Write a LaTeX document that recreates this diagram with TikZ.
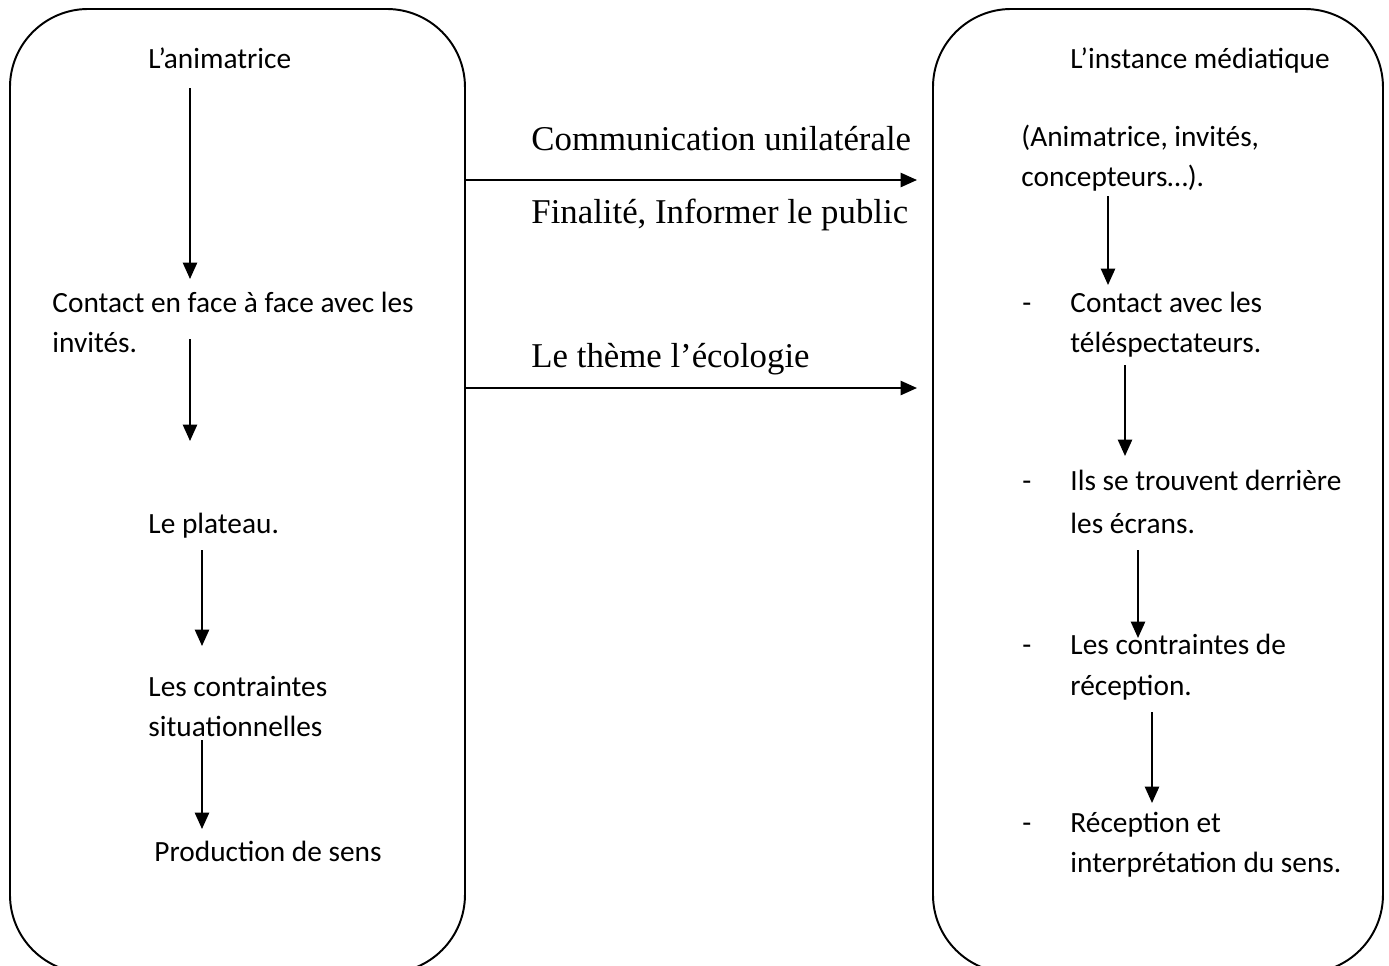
\documentclass[tikz,border=0pt]{standalone}
\usepackage{fontspec}
\setmainfont{Carlito}
\newfontfamily\tnr{Liberation Serif}
\usetikzlibrary{arrows.meta}
\tikzset{
  boxframe/.style={draw=black, line width=0.9pt, rounded corners=36pt},
  txt/.style={inner sep=0pt, anchor=base west, font=\fontsize{13.5}{16}\selectfont},
  serif/.style={inner sep=0pt, anchor=base west, font=\tnr\fontsize{16}{19}\selectfont},
  arr/.style={line width=0.9pt, -{Triangle[length=7.5pt,width=6.5pt]}},
}
\begin{document}
\begin{tikzpicture}[x=0.46pt,y=-0.46pt]
\useasboundingbox (0,0) rectangle (1389,965);
\clip (0,0) rectangle (1389,965);
% boxes
\node[boxframe, minimum width=455*0.46pt, minimum height=964*0.46pt, anchor=north west, inner sep=0pt] (lbox) at (9,8) {};
\node[boxframe, minimum width=450*0.46pt, minimum height=964*0.46pt, anchor=north west, inner sep=0pt] (rbox) at (932,8) {};
% left column
\node[txt] (l1) at (148,68) {L’animatrice};
\node[txt] (l2) at (52,312) {Contact en face à face avec les};
\node[txt] (l2b) at (52,352) {invités.};
\node[txt] (l3) at (148,533) {Le plateau.};
\node[txt] (l4) at (148,696) {Les contraintes};
\node[txt] (l4b) at (148,736) {situationnelles};
\node[txt] (l5) at (154,861) {Production de sens};
\coordinate (la1) at (190,88);  \coordinate (la1e) at (190,279);
\coordinate (la2) at (190,339); \coordinate (la2e) at (190,441);
\coordinate (la3) at (202,550); \coordinate (la3e) at (202,646);
\coordinate (la4) at (202,740); \coordinate (la4e) at (202,829);
\draw[arr] (la1) -- (la1e);
\draw[arr] (la2) -- (la2e);
\draw[arr] (la3) -- (la3e);
\draw[arr] (la4) -- (la4e);
% middle
\node[serif] (m1) at (531,150) {Communication unilatérale};
\node[serif] (m2) at (531,223) {Finalité, Informer le public};
\node[serif] (m3) at (531,367) {Le thème l’écologie};
\coordinate (ma1) at (lbox.east |- 0,180);  \coordinate (ma1e) at (917,180);
\coordinate (ma2) at (lbox.east |- 0,388);  \coordinate (ma2e) at (917,388);
\draw[arr] (ma1) -- (ma1e);
\draw[arr] (ma2) -- (ma2e);
% right column
\node[txt] (r0) at (1070,68) {L’instance médiatique};
\node[txt] (r1) at (1021,146) {(Animatrice, invités,};
\node[txt] (r1b) at (1021,186) {concepteurs…).};
\node[txt] (d2) at (1022,312) {-};
\node[txt] (r2) at (1070,312) {Contact avec les};
\node[txt] (r2b) at (1070,352) {téléspectateurs.};
\node[txt] (d3) at (1022,490) {-};
\node[txt] (r3) at (1070,490) {Ils se trouvent derrière};
\node[txt] (r3b) at (1070,533) {les écrans.};
\node[txt] (d4) at (1022,654) {-};
\node[txt] (r4) at (1070,654) {Les contraintes de};
\node[txt] (r4b) at (1070,695) {réception.};
\node[txt] (d5) at (1022,832) {-};
\node[txt] (r5) at (1070,832) {Réception et};
\node[txt] (r5b) at (1070,872) {interprétation du sens.};
\coordinate (ra1) at (1108,196); \coordinate (ra1e) at (1108,285);
\coordinate (ra2) at (1125,365); \coordinate (ra2e) at (1125,456);
\coordinate (ra3) at (1138,550); \coordinate (ra3e) at (1138,638);
\coordinate (ra4) at (1152,712); \coordinate (ra4e) at (1152,803);
\draw[arr] (ra1) -- (ra1e);
\draw[arr] (ra2) -- (ra2e);
\draw[arr] (ra3) -- (ra3e);
\draw[arr] (ra4) -- (ra4e);
\end{tikzpicture}
\end{document}
